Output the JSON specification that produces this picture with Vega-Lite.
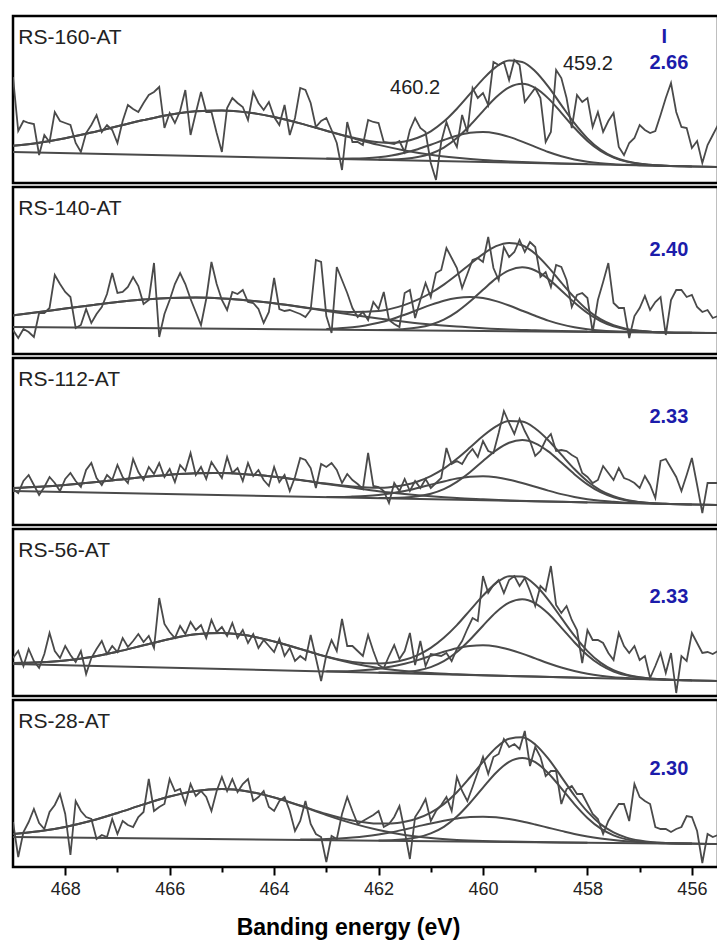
{
"$schema":"https://vega.github.io/schema/vega-lite/v6.json",
"background":"white",
"padding":{"left":11,"top":14,"right":0,"bottom":0},
"spacing":0,
"config":{"view":{"stroke":"#000","strokeWidth":2.5},"font":"Liberation Sans"},
"datasets":{
"p1":[
{"k":"r","x":469.0,"y":106},{"k":"r","x":468.9,"y":52},{"k":"r","x":468.8,"y":62},{"k":"r","x":468.7,"y":60},{"k":"r","x":468.6,"y":59},{"k":"r","x":468.5,"y":28},{"k":"r","x":468.4,"y":48},{"k":"r","x":468.3,"y":41},{"k":"r","x":468.2,"y":71},{"k":"r","x":468.1,"y":62},{"k":"r","x":468.0,"y":60},{"k":"r","x":467.9,"y":58},{"k":"r","x":467.8,"y":40},{"k":"r","x":467.7,"y":31},{"k":"r","x":467.6,"y":50},{"k":"r","x":467.5,"y":58},{"k":"r","x":467.4,"y":68},{"k":"r","x":467.3,"y":51},{"k":"r","x":467.2,"y":58},{"k":"r","x":467.1,"y":53},{"k":"r","x":467.0,"y":40},{"k":"r","x":466.9,"y":62},{"k":"r","x":466.8,"y":78},{"k":"r","x":466.7,"y":74},{"k":"r","x":466.6,"y":71},{"k":"r","x":466.5,"y":80},{"k":"r","x":466.4,"y":88},{"k":"r","x":466.3,"y":91},{"k":"r","x":466.2,"y":96},{"k":"r","x":466.1,"y":55},{"k":"r","x":466.0,"y":70},{"k":"r","x":465.9,"y":60},{"k":"r","x":465.8,"y":72},{"k":"r","x":465.7,"y":93},{"k":"r","x":465.6,"y":48},{"k":"r","x":465.5,"y":70},{"k":"r","x":465.4,"y":91},{"k":"r","x":465.3,"y":71},{"k":"r","x":465.2,"y":71},{"k":"r","x":465.1,"y":50},{"k":"r","x":465.0,"y":31},{"k":"r","x":464.9,"y":75},{"k":"r","x":464.8,"y":85},{"k":"r","x":464.7,"y":80},{"k":"r","x":464.6,"y":76},{"k":"r","x":464.5,"y":63},{"k":"r","x":464.4,"y":91},{"k":"r","x":464.3,"y":80},{"k":"r","x":464.2,"y":73},{"k":"r","x":464.1,"y":81},{"k":"r","x":464.0,"y":66},{"k":"r","x":463.9,"y":58},{"k":"r","x":463.8,"y":78},{"k":"r","x":463.7,"y":48},{"k":"r","x":463.6,"y":65},{"k":"r","x":463.5,"y":95},{"k":"r","x":463.4,"y":93},{"k":"r","x":463.3,"y":80},{"k":"r","x":463.2,"y":56},{"k":"r","x":463.1,"y":62},{"k":"r","x":463.0,"y":65},{"k":"r","x":462.9,"y":53},{"k":"r","x":462.8,"y":40},{"k":"r","x":462.7,"y":13},{"k":"r","x":462.6,"y":61},{"k":"r","x":462.5,"y":41},{"k":"r","x":462.4,"y":41},{"k":"r","x":462.3,"y":38},{"k":"r","x":462.2,"y":63},{"k":"r","x":462.1,"y":61},{"k":"r","x":462.0,"y":60},{"k":"r","x":461.9,"y":41},{"k":"r","x":461.8,"y":40},{"k":"r","x":461.7,"y":39},{"k":"r","x":461.6,"y":42},{"k":"r","x":461.5,"y":31},{"k":"r","x":461.4,"y":53},{"k":"r","x":461.3,"y":65},{"k":"r","x":461.2,"y":55},{"k":"r","x":461.1,"y":51},{"k":"r","x":461.0,"y":20},{"k":"r","x":460.9,"y":3},{"k":"r","x":460.8,"y":41},{"k":"r","x":460.7,"y":61},{"k":"r","x":460.6,"y":46},{"k":"r","x":460.5,"y":36},{"k":"r","x":460.4,"y":68},{"k":"r","x":460.3,"y":51},{"k":"r","x":460.2,"y":95},{"k":"r","x":460.1,"y":85},{"k":"r","x":460.0,"y":90},{"k":"r","x":459.9,"y":78},{"k":"r","x":459.8,"y":121},{"k":"r","x":459.7,"y":118},{"k":"r","x":459.6,"y":121},{"k":"r","x":459.5,"y":103},{"k":"r","x":459.4,"y":123},{"k":"r","x":459.3,"y":118},{"k":"r","x":459.2,"y":81},{"k":"r","x":459.1,"y":88},{"k":"r","x":459.0,"y":95},{"k":"r","x":458.9,"y":85},{"k":"r","x":458.8,"y":41},{"k":"r","x":458.7,"y":51},{"k":"r","x":458.6,"y":113},{"k":"r","x":458.5,"y":105},{"k":"r","x":458.4,"y":85},{"k":"r","x":458.3,"y":55},{"k":"r","x":458.2,"y":88},{"k":"r","x":458.1,"y":81},{"k":"r","x":458.0,"y":85},{"k":"r","x":457.9,"y":56},{"k":"r","x":457.8,"y":71},{"k":"r","x":457.7,"y":51},{"k":"r","x":457.6,"y":62},{"k":"r","x":457.5,"y":70},{"k":"r","x":457.4,"y":36},{"k":"r","x":457.3,"y":28},{"k":"r","x":457.2,"y":40},{"k":"r","x":457.1,"y":45},{"k":"r","x":457.0,"y":58},{"k":"r","x":456.9,"y":53},{"k":"r","x":456.8,"y":50},{"k":"r","x":456.7,"y":52},{"k":"r","x":456.6,"y":68},{"k":"r","x":456.5,"y":85},{"k":"r","x":456.4,"y":100},{"k":"r","x":456.3,"y":71},{"k":"r","x":456.2,"y":56},{"k":"r","x":456.1,"y":55},{"k":"r","x":456.0,"y":35},{"k":"r","x":455.9,"y":42},{"k":"r","x":455.8,"y":20},{"k":"r","x":455.7,"y":38},{"k":"r","x":455.6,"y":48},{"k":"r","x":455.5,"y":58},
{"k":"E","x":469,"y":37.2},{"k":"E","x":468.5,"y":40.3},{"k":"E","x":468,"y":44.8},{"k":"E","x":467.5,"y":50.4},{"k":"E","x":467,"y":56.7},{"k":"E","x":466.5,"y":62.9},{"k":"E","x":466,"y":68.3},{"k":"E","x":465.5,"y":71.7},{"k":"E","x":465,"y":72.6},{"k":"E","x":464.5,"y":70.6},{"k":"E","x":464,"y":66.0},{"k":"E","x":463.5,"y":59.6},{"k":"E","x":463,"y":52.3},{"k":"E","x":462.5,"y":45.5},{"k":"E","x":462,"y":40.8},{"k":"E","x":461.75,"y":40.3},{"k":"E","x":461.5,"y":41.6},{"k":"E","x":461.25,"y":45.2},{"k":"E","x":461,"y":51.7},{"k":"E","x":460.75,"y":61.4},{"k":"E","x":460.5,"y":74.3},{"k":"E","x":460.25,"y":89.1},{"k":"E","x":460,"y":103.9},{"k":"E","x":459.75,"y":116.1},{"k":"E","x":459.5,"y":122.4},{"k":"E","x":459.25,"y":121.1},{"k":"E","x":459,"y":111.8},{"k":"E","x":458.75,"y":96.4},{"k":"E","x":458.5,"y":77.9},{"k":"E","x":458.25,"y":59.8},{"k":"E","x":458,"y":44.6},{"k":"E","x":457.75,"y":33.4},{"k":"E","x":457.5,"y":26.0},{"k":"E","x":457.25,"y":21.7},{"k":"E","x":457,"y":19.3},{"k":"E","x":456.75,"y":18.0},{"k":"E","x":456.5,"y":17.3},{"k":"E","x":456,"y":16.6},{"k":"E","x":455.5,"y":16.0},
{"k":"S","x":469,"y":37.2},{"k":"S","x":468.5,"y":40.3},{"k":"S","x":468,"y":44.8},{"k":"S","x":467.5,"y":50.4},{"k":"S","x":467,"y":56.7},{"k":"S","x":466.5,"y":62.9},{"k":"S","x":466,"y":68.3},{"k":"S","x":465.5,"y":71.7},{"k":"S","x":465,"y":72.6},{"k":"S","x":464.5,"y":70.6},{"k":"S","x":464,"y":66.0},{"k":"S","x":463.5,"y":59.6},{"k":"S","x":463,"y":52.2},{"k":"S","x":462.5,"y":44.9},{"k":"S","x":462,"y":38.1},{"k":"S","x":461.5,"y":32.6},{"k":"S","x":461,"y":28.3},{"k":"S","x":460.5,"y":25.3},{"k":"S","x":460,"y":23.0},{"k":"S","x":459.5,"y":21.5},{"k":"S","x":459,"y":20.4},{"k":"S","x":458.5,"y":19.5},{"k":"S","x":458,"y":18.9},
{"k":"C1","x":462,"y":23.4},{"k":"C1","x":461.75,"y":23.5},{"k":"C1","x":461.5,"y":24.2},{"k":"C1","x":461.25,"y":25.9},{"k":"C1","x":461,"y":29.3},{"k":"C1","x":460.75,"y":35.4},{"k":"C1","x":460.5,"y":44.9},{"k":"C1","x":460.25,"y":57.5},{"k":"C1","x":460,"y":71.9},{"k":"C1","x":459.75,"y":85.7},{"k":"C1","x":459.5,"y":95.6},{"k":"C1","x":459.25,"y":99.2},{"k":"C1","x":459,"y":95.1},{"k":"C1","x":458.75,"y":84.6},{"k":"C1","x":458.5,"y":70.2},{"k":"C1","x":458.25,"y":55.2},{"k":"C1","x":458,"y":42.1},{"k":"C1","x":457.75,"y":32.1},{"k":"C1","x":457.5,"y":25.4},{"k":"C1","x":457.25,"y":21.4},{"k":"C1","x":457,"y":19.2},{"k":"C1","x":456.75,"y":18.0},{"k":"C1","x":456.5,"y":17.3},{"k":"C1","x":456,"y":16.6},
{"k":"C2","x":463,"y":24.4},{"k":"C2","x":462.75,"y":24.3},{"k":"C2","x":462.5,"y":24.4},{"k":"C2","x":462.25,"y":24.8},{"k":"C2","x":462,"y":25.7},{"k":"C2","x":461.75,"y":27.4},{"k":"C2","x":461.5,"y":30.2},{"k":"C2","x":461.25,"y":33.8},{"k":"C2","x":461,"y":38.3},{"k":"C2","x":460.75,"y":43.0},{"k":"C2","x":460.5,"y":47.3},{"k":"C2","x":460.25,"y":50.2},{"k":"C2","x":460,"y":51.0},{"k":"C2","x":459.75,"y":49.6},{"k":"C2","x":459.5,"y":46.1},{"k":"C2","x":459.25,"y":41.4},{"k":"C2","x":459,"y":36.1},{"k":"C2","x":458.75,"y":31.0},{"k":"C2","x":458.5,"y":26.8},{"k":"C2","x":458.25,"y":23.5},{"k":"C2","x":458,"y":21.3},{"k":"C2","x":457.75,"y":19.8},{"k":"C2","x":457.5,"y":18.8},{"k":"C2","x":457.25,"y":18.2},{"k":"C2","x":457,"y":17.8},{"k":"C2","x":456.5,"y":17.1},
{"k":"B","x":469,"y":31},{"k":"B","x":455.5,"y":16}
],
"p2":[
{"k":"r","x":469.0,"y":24},{"k":"r","x":468.9,"y":16},{"k":"r","x":468.8,"y":25},{"k":"r","x":468.7,"y":22},{"k":"r","x":468.6,"y":17},{"k":"r","x":468.5,"y":41},{"k":"r","x":468.4,"y":41},{"k":"r","x":468.3,"y":46},{"k":"r","x":468.2,"y":79},{"k":"r","x":468.1,"y":70},{"k":"r","x":468.0,"y":62},{"k":"r","x":467.9,"y":57},{"k":"r","x":467.8,"y":26},{"k":"r","x":467.7,"y":29},{"k":"r","x":467.6,"y":45},{"k":"r","x":467.5,"y":31},{"k":"r","x":467.4,"y":40},{"k":"r","x":467.3,"y":47},{"k":"r","x":467.2,"y":60},{"k":"r","x":467.1,"y":81},{"k":"r","x":467.0,"y":61},{"k":"r","x":466.9,"y":62},{"k":"r","x":466.8,"y":67},{"k":"r","x":466.7,"y":77},{"k":"r","x":466.6,"y":68},{"k":"r","x":466.5,"y":50},{"k":"r","x":466.4,"y":54},{"k":"r","x":466.3,"y":91},{"k":"r","x":466.2,"y":17},{"k":"r","x":466.1,"y":40},{"k":"r","x":466.0,"y":54},{"k":"r","x":465.9,"y":70},{"k":"r","x":465.8,"y":81},{"k":"r","x":465.7,"y":70},{"k":"r","x":465.6,"y":55},{"k":"r","x":465.5,"y":42},{"k":"r","x":465.4,"y":29},{"k":"r","x":465.3,"y":55},{"k":"r","x":465.2,"y":92},{"k":"r","x":465.1,"y":70},{"k":"r","x":465.0,"y":54},{"k":"r","x":464.9,"y":44},{"k":"r","x":464.8,"y":62},{"k":"r","x":464.7,"y":60},{"k":"r","x":464.6,"y":64},{"k":"r","x":464.5,"y":52},{"k":"r","x":464.4,"y":51},{"k":"r","x":464.3,"y":45},{"k":"r","x":464.2,"y":31},{"k":"r","x":464.1,"y":42},{"k":"r","x":464.0,"y":76},{"k":"r","x":463.9,"y":45},{"k":"r","x":463.8,"y":43},{"k":"r","x":463.7,"y":44},{"k":"r","x":463.6,"y":42},{"k":"r","x":463.5,"y":40},{"k":"r","x":463.4,"y":37},{"k":"r","x":463.3,"y":44},{"k":"r","x":463.2,"y":94},{"k":"r","x":463.1,"y":92},{"k":"r","x":463.0,"y":38},{"k":"r","x":462.9,"y":21},{"k":"r","x":462.8,"y":87},{"k":"r","x":462.7,"y":74},{"k":"r","x":462.6,"y":61},{"k":"r","x":462.5,"y":46},{"k":"r","x":462.4,"y":37},{"k":"r","x":462.3,"y":42},{"k":"r","x":462.2,"y":34},{"k":"r","x":462.1,"y":52},{"k":"r","x":462.0,"y":45},{"k":"r","x":461.9,"y":62},{"k":"r","x":461.8,"y":34},{"k":"r","x":461.7,"y":30},{"k":"r","x":461.6,"y":27},{"k":"r","x":461.5,"y":61},{"k":"r","x":461.4,"y":64},{"k":"r","x":461.3,"y":36},{"k":"r","x":461.2,"y":54},{"k":"r","x":461.1,"y":71},{"k":"r","x":461.0,"y":57},{"k":"r","x":460.9,"y":81},{"k":"r","x":460.8,"y":84},{"k":"r","x":460.7,"y":106},{"k":"r","x":460.6,"y":96},{"k":"r","x":460.5,"y":86},{"k":"r","x":460.4,"y":66},{"k":"r","x":460.3,"y":80},{"k":"r","x":460.2,"y":94},{"k":"r","x":460.1,"y":96},{"k":"r","x":460.0,"y":92},{"k":"r","x":459.9,"y":117},{"k":"r","x":459.8,"y":86},{"k":"r","x":459.7,"y":74},{"k":"r","x":459.6,"y":107},{"k":"r","x":459.5,"y":97},{"k":"r","x":459.4,"y":102},{"k":"r","x":459.3,"y":114},{"k":"r","x":459.2,"y":102},{"k":"r","x":459.1,"y":112},{"k":"r","x":459.0,"y":107},{"k":"r","x":458.9,"y":77},{"k":"r","x":458.8,"y":82},{"k":"r","x":458.7,"y":67},{"k":"r","x":458.6,"y":89},{"k":"r","x":458.5,"y":87},{"k":"r","x":458.4,"y":74},{"k":"r","x":458.3,"y":47},{"k":"r","x":458.2,"y":59},{"k":"r","x":458.1,"y":61},{"k":"r","x":458.0,"y":56},{"k":"r","x":457.9,"y":22},{"k":"r","x":457.8,"y":54},{"k":"r","x":457.7,"y":72},{"k":"r","x":457.6,"y":91},{"k":"r","x":457.5,"y":51},{"k":"r","x":457.4,"y":46},{"k":"r","x":457.3,"y":46},{"k":"r","x":457.2,"y":16},{"k":"r","x":457.1,"y":38},{"k":"r","x":457.0,"y":46},{"k":"r","x":456.9,"y":58},{"k":"r","x":456.8,"y":44},{"k":"r","x":456.7,"y":52},{"k":"r","x":456.6,"y":57},{"k":"r","x":456.5,"y":19},{"k":"r","x":456.4,"y":54},{"k":"r","x":456.3,"y":64},{"k":"r","x":456.2,"y":64},{"k":"r","x":456.1,"y":57},{"k":"r","x":456.0,"y":59},{"k":"r","x":455.9,"y":47},{"k":"r","x":455.8,"y":42},{"k":"r","x":455.7,"y":44},{"k":"r","x":455.6,"y":36},{"k":"r","x":455.5,"y":38},
{"k":"E","x":469,"y":38.6},{"k":"E","x":468.5,"y":41.9},{"k":"E","x":468,"y":45.4},{"k":"E","x":467.5,"y":48.8},{"k":"E","x":467,"y":52.0},{"k":"E","x":466.5,"y":54.5},{"k":"E","x":466,"y":56.1},{"k":"E","x":465.5,"y":56.4},{"k":"E","x":465,"y":55.6},{"k":"E","x":464.5,"y":53.6},{"k":"E","x":464,"y":50.7},{"k":"E","x":463.5,"y":47.3},{"k":"E","x":463,"y":43.9},{"k":"E","x":462.5,"y":41.9},{"k":"E","x":462,"y":43.0},{"k":"E","x":461.75,"y":45.4},{"k":"E","x":461.5,"y":49.1},{"k":"E","x":461.25,"y":54.3},{"k":"E","x":461,"y":61.0},{"k":"E","x":460.75,"y":69.4},{"k":"E","x":460.5,"y":79.2},{"k":"E","x":460.25,"y":89.8},{"k":"E","x":460,"y":99.9},{"k":"E","x":459.75,"y":107.8},{"k":"E","x":459.5,"y":111.1},{"k":"E","x":459.25,"y":108.7},{"k":"E","x":459,"y":100.2},{"k":"E","x":458.75,"y":86.9},{"k":"E","x":458.5,"y":71.4},{"k":"E","x":458.25,"y":56.6},{"k":"E","x":458,"y":44.0},{"k":"E","x":457.75,"y":34.8},{"k":"E","x":457.5,"y":28.7},{"k":"E","x":457.25,"y":25.1},{"k":"E","x":457,"y":23.2},{"k":"E","x":456.75,"y":22.1},{"k":"E","x":456.5,"y":21.6},{"k":"E","x":456,"y":21.2},{"k":"E","x":455.5,"y":21.0},
{"k":"S","x":469,"y":38.6},{"k":"S","x":468.5,"y":41.9},{"k":"S","x":468,"y":45.4},{"k":"S","x":467.5,"y":48.8},{"k":"S","x":467,"y":52.0},{"k":"S","x":466.5,"y":54.5},{"k":"S","x":466,"y":56.1},{"k":"S","x":465.5,"y":56.4},{"k":"S","x":465,"y":55.6},{"k":"S","x":464.5,"y":53.6},{"k":"S","x":464,"y":50.7},{"k":"S","x":463.5,"y":47.1},{"k":"S","x":463,"y":43.1},{"k":"S","x":462.5,"y":39.2},{"k":"S","x":462,"y":35.5},{"k":"S","x":461.5,"y":32.3},{"k":"S","x":461,"y":29.5},{"k":"S","x":460.5,"y":27.4},{"k":"S","x":460,"y":25.8},{"k":"S","x":459.5,"y":24.5},{"k":"S","x":459,"y":23.7},{"k":"S","x":458.5,"y":22.9},{"k":"S","x":458,"y":22.4},
{"k":"C1","x":462,"y":24.1},{"k":"C1","x":461.75,"y":24.3},{"k":"C1","x":461.5,"y":24.9},{"k":"C1","x":461.25,"y":26.4},{"k":"C1","x":461,"y":29.2},{"k":"C1","x":460.75,"y":34.3},{"k":"C1","x":460.5,"y":42.1},{"k":"C1","x":460.25,"y":52.4},{"k":"C1","x":460,"y":64.2},{"k":"C1","x":459.75,"y":75.6},{"k":"C1","x":459.5,"y":83.7},{"k":"C1","x":459.25,"y":86.7},{"k":"C1","x":459,"y":83.5},{"k":"C1","x":458.75,"y":75.1},{"k":"C1","x":458.5,"y":63.5},{"k":"C1","x":458.25,"y":51.5},{"k":"C1","x":458,"y":41.0},{"k":"C1","x":457.75,"y":33.0},{"k":"C1","x":457.5,"y":27.7},{"k":"C1","x":457.25,"y":24.6},{"k":"C1","x":457,"y":22.9},{"k":"C1","x":456.75,"y":22.1},{"k":"C1","x":456.5,"y":21.6},{"k":"C1","x":456,"y":21.2},
{"k":"C2","x":463,"y":25.1},{"k":"C2","x":462.75,"y":25.7},{"k":"C2","x":462.5,"y":26.8},{"k":"C2","x":462.25,"y":28.6},{"k":"C2","x":462,"y":31.2},{"k":"C2","x":461.75,"y":34.8},{"k":"C2","x":461.5,"y":39.3},{"k":"C2","x":461.25,"y":44.2},{"k":"C2","x":461,"y":49.1},{"k":"C2","x":460.75,"y":53.3},{"k":"C2","x":460.5,"y":56.1},{"k":"C2","x":460.25,"y":57.1},{"k":"C2","x":460,"y":55.9},{"k":"C2","x":459.75,"y":52.9},{"k":"C2","x":459.5,"y":48.5},{"k":"C2","x":459.25,"y":43.3},{"k":"C2","x":459,"y":38.2},{"k":"C2","x":458.75,"y":33.4},{"k":"C2","x":458.5,"y":29.6},{"k":"C2","x":458.25,"y":26.8},{"k":"C2","x":458,"y":24.8},{"k":"C2","x":457.75,"y":23.5},{"k":"C2","x":457.5,"y":22.7},{"k":"C2","x":457.25,"y":22.2},{"k":"C2","x":457,"y":21.9},{"k":"C2","x":456.5,"y":21.4},
{"k":"B","x":469,"y":27},{"k":"B","x":455.5,"y":21}
],
"p3":[
{"k":"r","x":469.0,"y":36},{"k":"r","x":468.9,"y":32},{"k":"r","x":468.8,"y":44},{"k":"r","x":468.7,"y":50},{"k":"r","x":468.6,"y":40},{"k":"r","x":468.5,"y":30},{"k":"r","x":468.4,"y":38},{"k":"r","x":468.3,"y":48},{"k":"r","x":468.2,"y":42},{"k":"r","x":468.1,"y":34},{"k":"r","x":468.0,"y":46},{"k":"r","x":467.9,"y":52},{"k":"r","x":467.8,"y":44},{"k":"r","x":467.7,"y":38},{"k":"r","x":467.6,"y":55},{"k":"r","x":467.5,"y":62},{"k":"r","x":467.4,"y":47},{"k":"r","x":467.3,"y":40},{"k":"r","x":467.2,"y":50},{"k":"r","x":467.1,"y":45},{"k":"r","x":467.0,"y":60},{"k":"r","x":466.9,"y":48},{"k":"r","x":466.8,"y":42},{"k":"r","x":466.7,"y":66},{"k":"r","x":466.6,"y":53},{"k":"r","x":466.5,"y":45},{"k":"r","x":466.4,"y":58},{"k":"r","x":466.3,"y":51},{"k":"r","x":466.2,"y":62},{"k":"r","x":466.1,"y":48},{"k":"r","x":466.0,"y":56},{"k":"r","x":465.9,"y":43},{"k":"r","x":465.8,"y":60},{"k":"r","x":465.7,"y":54},{"k":"r","x":465.6,"y":72},{"k":"r","x":465.5,"y":50},{"k":"r","x":465.4,"y":58},{"k":"r","x":465.3,"y":46},{"k":"r","x":465.2,"y":63},{"k":"r","x":465.1,"y":55},{"k":"r","x":465.0,"y":47},{"k":"r","x":464.9,"y":68},{"k":"r","x":464.8,"y":52},{"k":"r","x":464.7,"y":57},{"k":"r","x":464.6,"y":44},{"k":"r","x":464.5,"y":62},{"k":"r","x":464.4,"y":49},{"k":"r","x":464.3,"y":55},{"k":"r","x":464.2,"y":45},{"k":"r","x":464.1,"y":39},{"k":"r","x":464.0,"y":58},{"k":"r","x":463.9,"y":43},{"k":"r","x":463.8,"y":50},{"k":"r","x":463.7,"y":34},{"k":"r","x":463.6,"y":48},{"k":"r","x":463.5,"y":67},{"k":"r","x":463.4,"y":65},{"k":"r","x":463.3,"y":57},{"k":"r","x":463.2,"y":37},{"k":"r","x":463.1,"y":61},{"k":"r","x":463.0,"y":58},{"k":"r","x":462.9,"y":62},{"k":"r","x":462.8,"y":55},{"k":"r","x":462.7,"y":42},{"k":"r","x":462.6,"y":51},{"k":"r","x":462.5,"y":45},{"k":"r","x":462.4,"y":41},{"k":"r","x":462.3,"y":36},{"k":"r","x":462.2,"y":72},{"k":"r","x":462.1,"y":39},{"k":"r","x":462.0,"y":38},{"k":"r","x":461.9,"y":34},{"k":"r","x":461.8,"y":22},{"k":"r","x":461.7,"y":42},{"k":"r","x":461.6,"y":34},{"k":"r","x":461.5,"y":46},{"k":"r","x":461.4,"y":34},{"k":"r","x":461.3,"y":44},{"k":"r","x":461.2,"y":37},{"k":"r","x":461.1,"y":46},{"k":"r","x":461.0,"y":37},{"k":"r","x":460.9,"y":42},{"k":"r","x":460.8,"y":47},{"k":"r","x":460.7,"y":77},{"k":"r","x":460.6,"y":61},{"k":"r","x":460.5,"y":64},{"k":"r","x":460.4,"y":61},{"k":"r","x":460.3,"y":70},{"k":"r","x":460.2,"y":76},{"k":"r","x":460.1,"y":68},{"k":"r","x":460.0,"y":84},{"k":"r","x":459.9,"y":74},{"k":"r","x":459.8,"y":72},{"k":"r","x":459.7,"y":92},{"k":"r","x":459.6,"y":114},{"k":"r","x":459.5,"y":102},{"k":"r","x":459.4,"y":91},{"k":"r","x":459.3,"y":106},{"k":"r","x":459.2,"y":94},{"k":"r","x":459.1,"y":84},{"k":"r","x":459.0,"y":69},{"k":"r","x":458.9,"y":74},{"k":"r","x":458.8,"y":85},{"k":"r","x":458.7,"y":91},{"k":"r","x":458.6,"y":74},{"k":"r","x":458.5,"y":75},{"k":"r","x":458.4,"y":74},{"k":"r","x":458.3,"y":70},{"k":"r","x":458.2,"y":67},{"k":"r","x":458.1,"y":52},{"k":"r","x":458.0,"y":48},{"k":"r","x":457.9,"y":42},{"k":"r","x":457.8,"y":45},{"k":"r","x":457.7,"y":59},{"k":"r","x":457.6,"y":52},{"k":"r","x":457.5,"y":45},{"k":"r","x":457.4,"y":57},{"k":"r","x":457.3,"y":47},{"k":"r","x":457.2,"y":45},{"k":"r","x":457.1,"y":42},{"k":"r","x":457.0,"y":37},{"k":"r","x":456.9,"y":49},{"k":"r","x":456.8,"y":40},{"k":"r","x":456.7,"y":27},{"k":"r","x":456.6,"y":64},{"k":"r","x":456.5,"y":66},{"k":"r","x":456.4,"y":57},{"k":"r","x":456.3,"y":48},{"k":"r","x":456.2,"y":34},{"k":"r","x":456.1,"y":50},{"k":"r","x":456.0,"y":67},{"k":"r","x":455.9,"y":40},{"k":"r","x":455.8,"y":12},{"k":"r","x":455.7,"y":42},{"k":"r","x":455.6,"y":42},{"k":"r","x":455.5,"y":42},
{"k":"E","x":469,"y":37.0},{"k":"E","x":468.5,"y":38.3},{"k":"E","x":468,"y":40.1},{"k":"E","x":467.5,"y":42.5},{"k":"E","x":467,"y":45.2},{"k":"E","x":466.5,"y":48.0},{"k":"E","x":466,"y":50.3},{"k":"E","x":465.5,"y":51.7},{"k":"E","x":465,"y":51.9},{"k":"E","x":464.5,"y":50.6},{"k":"E","x":464,"y":48.2},{"k":"E","x":463.5,"y":45.0},{"k":"E","x":463,"y":41.4},{"k":"E","x":462.5,"y":38.5},{"k":"E","x":462,"y":37.2},{"k":"E","x":461.75,"y":38.1},{"k":"E","x":461.5,"y":40.0},{"k":"E","x":461.25,"y":43.5},{"k":"E","x":461,"y":48.9},{"k":"E","x":460.75,"y":56.3},{"k":"E","x":460.5,"y":66.2},{"k":"E","x":460.25,"y":77.4},{"k":"E","x":460,"y":89.0},{"k":"E","x":459.75,"y":98.6},{"k":"E","x":459.5,"y":103.9},{"k":"E","x":459.25,"y":103.4},{"k":"E","x":459,"y":96.5},{"k":"E","x":458.75,"y":84.8},{"k":"E","x":458.5,"y":70.3},{"k":"E","x":458.25,"y":56.0},{"k":"E","x":458,"y":43.8},{"k":"E","x":457.75,"y":34.7},{"k":"E","x":457.5,"y":28.8},{"k":"E","x":457.25,"y":25.0},{"k":"E","x":457,"y":23.1},{"k":"E","x":456.75,"y":21.8},{"k":"E","x":456.5,"y":21.2},{"k":"E","x":456,"y":20.5},{"k":"E","x":455.5,"y":20.0},
{"k":"S","x":469,"y":37.0},{"k":"S","x":468.5,"y":38.3},{"k":"S","x":468,"y":40.1},{"k":"S","x":467.5,"y":42.5},{"k":"S","x":467,"y":45.2},{"k":"S","x":466.5,"y":48.0},{"k":"S","x":466,"y":50.3},{"k":"S","x":465.5,"y":51.7},{"k":"S","x":465,"y":51.9},{"k":"S","x":464.5,"y":50.6},{"k":"S","x":464,"y":48.2},{"k":"S","x":463.5,"y":44.9},{"k":"S","x":463,"y":41.1},{"k":"S","x":462.5,"y":37.4},{"k":"S","x":462,"y":33.8},{"k":"S","x":461.5,"y":31.0},{"k":"S","x":461,"y":28.7},{"k":"S","x":460.5,"y":26.9},{"k":"S","x":460,"y":25.7},{"k":"S","x":459.5,"y":24.6},{"k":"S","x":459,"y":23.8},{"k":"S","x":458.5,"y":23.2},{"k":"S","x":458,"y":22.6},
{"k":"C1","x":462,"y":26.9},{"k":"C1","x":461.75,"y":27.0},{"k":"C1","x":461.5,"y":27.4},{"k":"C1","x":461.25,"y":28.7},{"k":"C1","x":461,"y":31.3},{"k":"C1","x":460.75,"y":35.9},{"k":"C1","x":460.5,"y":43.2},{"k":"C1","x":460.25,"y":52.8},{"k":"C1","x":460,"y":64.0},{"k":"C1","x":459.75,"y":74.6},{"k":"C1","x":459.5,"y":82.2},{"k":"C1","x":459.25,"y":84.9},{"k":"C1","x":459,"y":81.7},{"k":"C1","x":458.75,"y":73.6},{"k":"C1","x":458.5,"y":62.4},{"k":"C1","x":458.25,"y":50.8},{"k":"C1","x":458,"y":40.6},{"k":"C1","x":457.75,"y":32.8},{"k":"C1","x":457.5,"y":27.7},{"k":"C1","x":457.25,"y":24.5},{"k":"C1","x":457,"y":22.8},{"k":"C1","x":456.75,"y":21.8},{"k":"C1","x":456.5,"y":21.2},{"k":"C1","x":456,"y":20.5},
{"k":"C2","x":463,"y":28.1},{"k":"C2","x":462.75,"y":28.1},{"k":"C2","x":462.5,"y":28.4},{"k":"C2","x":462.25,"y":28.9},{"k":"C2","x":462,"y":29.9},{"k":"C2","x":461.75,"y":31.7},{"k":"C2","x":461.5,"y":34.0},{"k":"C2","x":461.25,"y":37.0},{"k":"C2","x":461,"y":40.3},{"k":"C2","x":460.75,"y":43.5},{"k":"C2","x":460.5,"y":46.4},{"k":"C2","x":460.25,"y":48.2},{"k":"C2","x":460,"y":48.7},{"k":"C2","x":459.75,"y":47.7},{"k":"C2","x":459.5,"y":45.3},{"k":"C2","x":459.25,"y":42.0},{"k":"C2","x":459,"y":38.2},{"k":"C2","x":458.75,"y":34.4},{"k":"C2","x":458.5,"y":30.9},{"k":"C2","x":458.25,"y":28.1},{"k":"C2","x":458,"y":25.8},{"k":"C2","x":457.75,"y":24.2},{"k":"C2","x":457.5,"y":23.2},{"k":"C2","x":457.25,"y":22.3},{"k":"C2","x":457,"y":21.9},{"k":"C2","x":456.5,"y":21.0},
{"k":"B","x":469,"y":34},{"k":"B","x":455.5,"y":20}
],
"p4":[
{"k":"r","x":469.0,"y":38},{"k":"r","x":468.9,"y":45},{"k":"r","x":468.8,"y":30},{"k":"r","x":468.7,"y":47},{"k":"r","x":468.6,"y":35},{"k":"r","x":468.5,"y":28},{"k":"r","x":468.4,"y":42},{"k":"r","x":468.3,"y":63},{"k":"r","x":468.2,"y":45},{"k":"r","x":468.1,"y":38},{"k":"r","x":468.0,"y":50},{"k":"r","x":467.9,"y":41},{"k":"r","x":467.8,"y":34},{"k":"r","x":467.7,"y":45},{"k":"r","x":467.6,"y":22},{"k":"r","x":467.5,"y":38},{"k":"r","x":467.4,"y":47},{"k":"r","x":467.3,"y":55},{"k":"r","x":467.2,"y":42},{"k":"r","x":467.1,"y":50},{"k":"r","x":467.0,"y":44},{"k":"r","x":466.9,"y":58},{"k":"r","x":466.8,"y":49},{"k":"r","x":466.7,"y":55},{"k":"r","x":466.6,"y":62},{"k":"r","x":466.5,"y":54},{"k":"r","x":466.4,"y":60},{"k":"r","x":466.3,"y":48},{"k":"r","x":466.2,"y":98},{"k":"r","x":466.1,"y":72},{"k":"r","x":466.0,"y":64},{"k":"r","x":465.9,"y":58},{"k":"r","x":465.8,"y":70},{"k":"r","x":465.7,"y":62},{"k":"r","x":465.6,"y":74},{"k":"r","x":465.5,"y":66},{"k":"r","x":465.4,"y":71},{"k":"r","x":465.3,"y":58},{"k":"r","x":465.2,"y":76},{"k":"r","x":465.1,"y":64},{"k":"r","x":465.0,"y":69},{"k":"r","x":464.9,"y":60},{"k":"r","x":464.8,"y":73},{"k":"r","x":464.7,"y":58},{"k":"r","x":464.6,"y":66},{"k":"r","x":464.5,"y":53},{"k":"r","x":464.4,"y":62},{"k":"r","x":464.3,"y":48},{"k":"r","x":464.2,"y":56},{"k":"r","x":464.1,"y":50},{"k":"r","x":464.0,"y":44},{"k":"r","x":463.9,"y":57},{"k":"r","x":463.8,"y":40},{"k":"r","x":463.7,"y":48},{"k":"r","x":463.6,"y":35},{"k":"r","x":463.5,"y":40},{"k":"r","x":463.4,"y":36},{"k":"r","x":463.3,"y":61},{"k":"r","x":463.2,"y":38},{"k":"r","x":463.1,"y":15},{"k":"r","x":463.0,"y":41},{"k":"r","x":462.9,"y":56},{"k":"r","x":462.8,"y":45},{"k":"r","x":462.7,"y":77},{"k":"r","x":462.6,"y":50},{"k":"r","x":462.5,"y":50},{"k":"r","x":462.4,"y":45},{"k":"r","x":462.3,"y":40},{"k":"r","x":462.2,"y":61},{"k":"r","x":462.1,"y":45},{"k":"r","x":462.0,"y":31},{"k":"r","x":461.9,"y":28},{"k":"r","x":461.8,"y":40},{"k":"r","x":461.7,"y":51},{"k":"r","x":461.6,"y":37},{"k":"r","x":461.5,"y":45},{"k":"r","x":461.4,"y":63},{"k":"r","x":461.3,"y":31},{"k":"r","x":461.2,"y":55},{"k":"r","x":461.1,"y":30},{"k":"r","x":461.0,"y":42},{"k":"r","x":460.9,"y":41},{"k":"r","x":460.8,"y":40},{"k":"r","x":460.7,"y":43},{"k":"r","x":460.6,"y":35},{"k":"r","x":460.5,"y":47},{"k":"r","x":460.4,"y":55},{"k":"r","x":460.3,"y":67},{"k":"r","x":460.2,"y":78},{"k":"r","x":460.1,"y":75},{"k":"r","x":460.0,"y":120},{"k":"r","x":459.9,"y":103},{"k":"r","x":459.8,"y":111},{"k":"r","x":459.7,"y":116},{"k":"r","x":459.6,"y":103},{"k":"r","x":459.5,"y":116},{"k":"r","x":459.4,"y":120},{"k":"r","x":459.3,"y":110},{"k":"r","x":459.2,"y":118},{"k":"r","x":459.1,"y":105},{"k":"r","x":459.0,"y":90},{"k":"r","x":458.9,"y":110},{"k":"r","x":458.8,"y":105},{"k":"r","x":458.7,"y":130},{"k":"r","x":458.6,"y":91},{"k":"r","x":458.5,"y":83},{"k":"r","x":458.4,"y":90},{"k":"r","x":458.3,"y":76},{"k":"r","x":458.2,"y":66},{"k":"r","x":458.1,"y":33},{"k":"r","x":458.0,"y":66},{"k":"r","x":457.9,"y":56},{"k":"r","x":457.8,"y":56},{"k":"r","x":457.7,"y":53},{"k":"r","x":457.6,"y":43},{"k":"r","x":457.5,"y":36},{"k":"r","x":457.4,"y":63},{"k":"r","x":457.3,"y":50},{"k":"r","x":457.2,"y":43},{"k":"r","x":457.1,"y":50},{"k":"r","x":457.0,"y":36},{"k":"r","x":456.9,"y":40},{"k":"r","x":456.8,"y":18},{"k":"r","x":456.7,"y":30},{"k":"r","x":456.6,"y":43},{"k":"r","x":456.5,"y":23},{"k":"r","x":456.4,"y":43},{"k":"r","x":456.3,"y":3},{"k":"r","x":456.2,"y":40},{"k":"r","x":456.1,"y":35},{"k":"r","x":456.0,"y":63},{"k":"r","x":455.9,"y":53},{"k":"r","x":455.8,"y":43},{"k":"r","x":455.7,"y":44},{"k":"r","x":455.6,"y":42},{"k":"r","x":455.5,"y":45},
{"k":"E","x":469,"y":33.0},{"k":"E","x":468.5,"y":33.8},{"k":"E","x":468,"y":35.6},{"k":"E","x":467.5,"y":39.1},{"k":"E","x":467,"y":44.3},{"k":"E","x":466.5,"y":50.7},{"k":"E","x":466,"y":57.0},{"k":"E","x":465.5,"y":61.7},{"k":"E","x":465,"y":63.0},{"k":"E","x":464.5,"y":60.4},{"k":"E","x":464,"y":54.5},{"k":"E","x":463.5,"y":47.1},{"k":"E","x":463,"y":39.5},{"k":"E","x":462.5,"y":34.1},{"k":"E","x":462,"y":32.4},{"k":"E","x":461.75,"y":33.5},{"k":"E","x":461.5,"y":36.2},{"k":"E","x":461.25,"y":40.9},{"k":"E","x":461,"y":48.1},{"k":"E","x":460.75,"y":58.2},{"k":"E","x":460.5,"y":70.9},{"k":"E","x":460.25,"y":85.7},{"k":"E","x":460,"y":100.4},{"k":"E","x":459.75,"y":112.9},{"k":"E","x":459.5,"y":119.8},{"k":"E","x":459.25,"y":119.4},{"k":"E","x":459,"y":110.9},{"k":"E","x":458.75,"y":96.2},{"k":"E","x":458.5,"y":78.1},{"k":"E","x":458.25,"y":60.3},{"k":"E","x":458,"y":44.9},{"k":"E","x":457.75,"y":33.4},{"k":"E","x":457.5,"y":25.8},{"k":"E","x":457.25,"y":21.3},{"k":"E","x":457,"y":18.7},{"k":"E","x":456.75,"y":17.2},{"k":"E","x":456.5,"y":16.5},{"k":"E","x":456,"y":15.6},{"k":"E","x":455.5,"y":15.0},
{"k":"S","x":469,"y":33.0},{"k":"S","x":468.5,"y":33.8},{"k":"S","x":468,"y":35.6},{"k":"S","x":467.5,"y":39.1},{"k":"S","x":467,"y":44.3},{"k":"S","x":466.5,"y":50.7},{"k":"S","x":466,"y":57.0},{"k":"S","x":465.5,"y":61.7},{"k":"S","x":465,"y":63.0},{"k":"S","x":464.5,"y":60.4},{"k":"S","x":464,"y":54.5},{"k":"S","x":463.5,"y":47.0},{"k":"S","x":463,"y":39.2},{"k":"S","x":462.5,"y":32.8},{"k":"S","x":462,"y":28.1},{"k":"S","x":461.5,"y":25.0},{"k":"S","x":461,"y":22.9},{"k":"S","x":460.5,"y":21.7},{"k":"S","x":460,"y":20.8},{"k":"S","x":459.5,"y":20.0},{"k":"S","x":459,"y":19.4},{"k":"S","x":458.5,"y":18.8},{"k":"S","x":458,"y":18.1},
{"k":"C1","x":462,"y":23.4},{"k":"C1","x":461.75,"y":23.5},{"k":"C1","x":461.5,"y":24.1},{"k":"C1","x":461.25,"y":25.6},{"k":"C1","x":461,"y":28.9},{"k":"C1","x":460.75,"y":34.8},{"k":"C1","x":460.5,"y":44.0},{"k":"C1","x":460.25,"y":56.3},{"k":"C1","x":460,"y":70.3},{"k":"C1","x":459.75,"y":83.8},{"k":"C1","x":459.5,"y":93.3},{"k":"C1","x":459.25,"y":96.7},{"k":"C1","x":459,"y":92.7},{"k":"C1","x":458.75,"y":82.5},{"k":"C1","x":458.5,"y":68.4},{"k":"C1","x":458.25,"y":53.8},{"k":"C1","x":458,"y":40.8},{"k":"C1","x":457.75,"y":31.0},{"k":"C1","x":457.5,"y":24.5},{"k":"C1","x":457.25,"y":20.6},{"k":"C1","x":457,"y":18.4},{"k":"C1","x":456.75,"y":17.2},{"k":"C1","x":456.5,"y":16.5},{"k":"C1","x":456,"y":15.6},
{"k":"C2","x":463,"y":24.7},{"k":"C2","x":462.75,"y":24.8},{"k":"C2","x":462.5,"y":25.1},{"k":"C2","x":462.25,"y":25.9},{"k":"C2","x":462,"y":27.3},{"k":"C2","x":461.75,"y":29.4},{"k":"C2","x":461.5,"y":32.3},{"k":"C2","x":461.25,"y":35.9},{"k":"C2","x":461,"y":40.1},{"k":"C2","x":460.75,"y":44.3},{"k":"C2","x":460.5,"y":47.8},{"k":"C2","x":460.25,"y":50.1},{"k":"C2","x":460,"y":50.7},{"k":"C2","x":459.75,"y":49.5},{"k":"C2","x":459.5,"y":46.5},{"k":"C2","x":459.25,"y":42.4},{"k":"C2","x":459,"y":37.6},{"k":"C2","x":458.75,"y":32.8},{"k":"C2","x":458.5,"y":28.5},{"k":"C2","x":458.25,"y":25.0},{"k":"C2","x":458,"y":22.2},{"k":"C2","x":457.75,"y":20.2},{"k":"C2","x":457.5,"y":18.8},{"k":"C2","x":457.25,"y":17.9},{"k":"C2","x":457,"y":17.2},{"k":"C2","x":456.5,"y":16.4},
{"k":"B","x":469,"y":32},{"k":"B","x":455.5,"y":15}
],
"p5":[
{"k":"r","x":469.0,"y":45},{"k":"r","x":468.9,"y":10},{"k":"r","x":468.8,"y":35},{"k":"r","x":468.7,"y":45},{"k":"r","x":468.6,"y":58},{"k":"r","x":468.5,"y":44},{"k":"r","x":468.4,"y":38},{"k":"r","x":468.3,"y":55},{"k":"r","x":468.2,"y":62},{"k":"r","x":468.1,"y":73},{"k":"r","x":468.0,"y":53},{"k":"r","x":467.9,"y":12},{"k":"r","x":467.8,"y":66},{"k":"r","x":467.7,"y":56},{"k":"r","x":467.6,"y":50},{"k":"r","x":467.5,"y":48},{"k":"r","x":467.4,"y":28},{"k":"r","x":467.3,"y":32},{"k":"r","x":467.2,"y":30},{"k":"r","x":467.1,"y":48},{"k":"r","x":467.0,"y":33},{"k":"r","x":466.9,"y":46},{"k":"r","x":466.8,"y":42},{"k":"r","x":466.7,"y":40},{"k":"r","x":466.6,"y":50},{"k":"r","x":466.5,"y":55},{"k":"r","x":466.4,"y":88},{"k":"r","x":466.3,"y":56},{"k":"r","x":466.2,"y":60},{"k":"r","x":466.1,"y":63},{"k":"r","x":466.0,"y":88},{"k":"r","x":465.9,"y":76},{"k":"r","x":465.8,"y":78},{"k":"r","x":465.7,"y":63},{"k":"r","x":465.6,"y":83},{"k":"r","x":465.5,"y":71},{"k":"r","x":465.4,"y":76},{"k":"r","x":465.3,"y":70},{"k":"r","x":465.2,"y":56},{"k":"r","x":465.1,"y":76},{"k":"r","x":465.0,"y":90},{"k":"r","x":464.9,"y":76},{"k":"r","x":464.8,"y":88},{"k":"r","x":464.7,"y":75},{"k":"r","x":464.6,"y":83},{"k":"r","x":464.5,"y":88},{"k":"r","x":464.4,"y":66},{"k":"r","x":464.3,"y":70},{"k":"r","x":464.2,"y":76},{"k":"r","x":464.1,"y":60},{"k":"r","x":464.0,"y":56},{"k":"r","x":463.9,"y":66},{"k":"r","x":463.8,"y":70},{"k":"r","x":463.7,"y":56},{"k":"r","x":463.6,"y":36},{"k":"r","x":463.5,"y":46},{"k":"r","x":463.4,"y":66},{"k":"r","x":463.3,"y":43},{"k":"r","x":463.2,"y":33},{"k":"r","x":463.1,"y":30},{"k":"r","x":463.0,"y":5},{"k":"r","x":462.9,"y":31},{"k":"r","x":462.8,"y":28},{"k":"r","x":462.7,"y":53},{"k":"r","x":462.6,"y":70},{"k":"r","x":462.5,"y":56},{"k":"r","x":462.4,"y":43},{"k":"r","x":462.3,"y":46},{"k":"r","x":462.2,"y":49},{"k":"r","x":462.1,"y":52},{"k":"r","x":462.0,"y":56},{"k":"r","x":461.9,"y":40},{"k":"r","x":461.8,"y":43},{"k":"r","x":461.7,"y":50},{"k":"r","x":461.6,"y":61},{"k":"r","x":461.5,"y":36},{"k":"r","x":461.4,"y":8},{"k":"r","x":461.3,"y":50},{"k":"r","x":461.2,"y":58},{"k":"r","x":461.1,"y":68},{"k":"r","x":461.0,"y":46},{"k":"r","x":460.9,"y":56},{"k":"r","x":460.8,"y":62},{"k":"r","x":460.7,"y":70},{"k":"r","x":460.6,"y":56},{"k":"r","x":460.5,"y":90},{"k":"r","x":460.4,"y":76},{"k":"r","x":460.3,"y":66},{"k":"r","x":460.2,"y":80},{"k":"r","x":460.1,"y":95},{"k":"r","x":460.0,"y":110},{"k":"r","x":459.9,"y":93},{"k":"r","x":459.8,"y":110},{"k":"r","x":459.7,"y":113},{"k":"r","x":459.6,"y":128},{"k":"r","x":459.5,"y":120},{"k":"r","x":459.4,"y":123},{"k":"r","x":459.3,"y":118},{"k":"r","x":459.2,"y":136},{"k":"r","x":459.1,"y":101},{"k":"r","x":459.0,"y":120},{"k":"r","x":458.9,"y":110},{"k":"r","x":458.8,"y":91},{"k":"r","x":458.7,"y":96},{"k":"r","x":458.6,"y":96},{"k":"r","x":458.5,"y":63},{"k":"r","x":458.4,"y":78},{"k":"r","x":458.3,"y":81},{"k":"r","x":458.2,"y":73},{"k":"r","x":458.1,"y":73},{"k":"r","x":458.0,"y":63},{"k":"r","x":457.9,"y":53},{"k":"r","x":457.8,"y":48},{"k":"r","x":457.7,"y":33},{"k":"r","x":457.6,"y":46},{"k":"r","x":457.5,"y":55},{"k":"r","x":457.4,"y":63},{"k":"r","x":457.3,"y":63},{"k":"r","x":457.2,"y":46},{"k":"r","x":457.1,"y":83},{"k":"r","x":457.0,"y":70},{"k":"r","x":456.9,"y":66},{"k":"r","x":456.8,"y":63},{"k":"r","x":456.7,"y":40},{"k":"r","x":456.6,"y":38},{"k":"r","x":456.5,"y":38},{"k":"r","x":456.4,"y":35},{"k":"r","x":456.3,"y":38},{"k":"r","x":456.2,"y":40},{"k":"r","x":456.1,"y":51},{"k":"r","x":456.0,"y":50},{"k":"r","x":455.9,"y":36},{"k":"r","x":455.8,"y":4},{"k":"r","x":455.7,"y":33},{"k":"r","x":455.6,"y":30},{"k":"r","x":455.5,"y":32},
{"k":"E","x":469,"y":33.1},{"k":"E","x":468.5,"y":35.7},{"k":"E","x":468,"y":40.1},{"k":"E","x":467.5,"y":46.2},{"k":"E","x":467,"y":54.0},{"k":"E","x":466.5,"y":62.6},{"k":"E","x":466,"y":70.5},{"k":"E","x":465.5,"y":76.1},{"k":"E","x":465,"y":77.9},{"k":"E","x":464.5,"y":75.6},{"k":"E","x":464,"y":69.6},{"k":"E","x":463.5,"y":61.5},{"k":"E","x":463,"y":53.0},{"k":"E","x":462.5,"y":46.5},{"k":"E","x":462,"y":43.4},{"k":"E","x":461.75,"y":43.5},{"k":"E","x":461.5,"y":45.2},{"k":"E","x":461.25,"y":48.7},{"k":"E","x":461,"y":54.4},{"k":"E","x":460.75,"y":62.9},{"k":"E","x":460.5,"y":74.8},{"k":"E","x":460.25,"y":89.5},{"k":"E","x":460,"y":105.1},{"k":"E","x":459.75,"y":119.2},{"k":"E","x":459.5,"y":128.3},{"k":"E","x":459.25,"y":129.7},{"k":"E","x":459,"y":122.6},{"k":"E","x":458.75,"y":108.4},{"k":"E","x":458.5,"y":90.2},{"k":"E","x":458.25,"y":71.5},{"k":"E","x":458,"y":55.3},{"k":"E","x":457.75,"y":42.9},{"k":"E","x":457.5,"y":34.6},{"k":"E","x":457.25,"y":29.4},{"k":"E","x":457,"y":26.5},{"k":"E","x":456.75,"y":24.8},{"k":"E","x":456.5,"y":24.1},{"k":"E","x":456,"y":23.4},{"k":"E","x":455.5,"y":23.0},
{"k":"S","x":469,"y":33.1},{"k":"S","x":468.5,"y":35.7},{"k":"S","x":468,"y":40.1},{"k":"S","x":467.5,"y":46.2},{"k":"S","x":467,"y":54.0},{"k":"S","x":466.5,"y":62.6},{"k":"S","x":466,"y":70.5},{"k":"S","x":465.5,"y":76.1},{"k":"S","x":465,"y":77.9},{"k":"S","x":464.5,"y":75.6},{"k":"S","x":464,"y":69.5},{"k":"S","x":463.5,"y":61.1},{"k":"S","x":463,"y":51.9},{"k":"S","x":462.5,"y":43.6},{"k":"S","x":462,"y":37.0},{"k":"S","x":461.5,"y":32.1},{"k":"S","x":461,"y":29.0},{"k":"S","x":460.5,"y":27.1},{"k":"S","x":460,"y":26.0},{"k":"S","x":459.5,"y":25.4},{"k":"S","x":459,"y":24.9},{"k":"S","x":458.5,"y":24.6},{"k":"S","x":458,"y":24.3},
{"k":"C1","x":462,"y":26.6},{"k":"C1","x":461.75,"y":26.8},{"k":"C1","x":461.5,"y":27.7},{"k":"C1","x":461.25,"y":29.7},{"k":"C1","x":461,"y":33.6},{"k":"C1","x":460.75,"y":40.1},{"k":"C1","x":460.5,"y":50.4},{"k":"C1","x":460.25,"y":64.0},{"k":"C1","x":460,"y":79.4},{"k":"C1","x":459.75,"y":94.3},{"k":"C1","x":459.5,"y":105.1},{"k":"C1","x":459.25,"y":108.9},{"k":"C1","x":459,"y":104.8},{"k":"C1","x":458.75,"y":93.8},{"k":"C1","x":458.5,"y":78.7},{"k":"C1","x":458.25,"y":62.9},{"k":"C1","x":458,"y":49.1},{"k":"C1","x":457.75,"y":38.6},{"k":"C1","x":457.5,"y":31.7},{"k":"C1","x":457.25,"y":27.6},{"k":"C1","x":457,"y":25.4},{"k":"C1","x":456.75,"y":24.2},{"k":"C1","x":456.5,"y":23.7},{"k":"C1","x":456,"y":23.3},
{"k":"C2","x":463.5,"y":27.5},{"k":"C2","x":463.25,"y":27.6},{"k":"C2","x":463,"y":28.0},{"k":"C2","x":462.75,"y":28.6},{"k":"C2","x":462.5,"y":29.5},{"k":"C2","x":462.25,"y":30.8},{"k":"C2","x":462,"y":32.6},{"k":"C2","x":461.75,"y":34.8},{"k":"C2","x":461.5,"y":37.6},{"k":"C2","x":461.25,"y":40.6},{"k":"C2","x":461,"y":43.6},{"k":"C2","x":460.75,"y":46.3},{"k":"C2","x":460.5,"y":48.5},{"k":"C2","x":460.25,"y":50.0},{"k":"C2","x":460,"y":50.3},{"k":"C2","x":459.75,"y":49.7},{"k":"C2","x":459.5,"y":48.0},{"k":"C2","x":459.25,"y":45.5},{"k":"C2","x":459,"y":42.5},{"k":"C2","x":458.75,"y":39.3},{"k":"C2","x":458.5,"y":36.1},{"k":"C2","x":458.25,"y":33.0},{"k":"C2","x":458,"y":30.5},{"k":"C2","x":457.75,"y":28.5},{"k":"C2","x":457.5,"y":26.9},{"k":"C2","x":457.25,"y":25.7},{"k":"C2","x":457,"y":24.9},{"k":"C2","x":456.75,"y":24.2},{"k":"C2","x":456.5,"y":23.9},{"k":"C2","x":456,"y":23.4},
{"k":"B","x":469,"y":30},{"k":"B","x":455.5,"y":23}
]
},
"vconcat":[
{"width":705,"height":167,"data":{"name":"p1"},"layer":[
{"transform":[{"filter":"datum.k==='r'"}],"mark":{"type":"line","color":"#4a4a4a","strokeWidth":1.8,"clip":true},"encoding":{"x":{"field":"x","type":"quantitative","scale":{"domain":[455.5,469],"reverse":true,"nice":false,"zero":false},"axis":null},"y":{"field":"y","type":"quantitative","scale":{"domain":[0,167],"nice":false,"zero":false},"axis":null}}},
{"transform":[{"filter":"datum.k!=='r'"}],"mark":{"type":"line","color":"#4a4a4a","strokeWidth":2,"interpolate":"monotone","clip":true},"encoding":{"x":{"field":"x","type":"quantitative","axis":null},"y":{"field":"y","type":"quantitative","axis":null},"detail":{"field":"k"}}},
{"data":{"values":[{}]},"mark":{"type":"text","align":"left","baseline":"middle","fontSize":21,"color":"#222"},"encoding":{"x":{"datum":468.9,"type":"quantitative","axis":null},"y":{"datum":145,"type":"quantitative","axis":null},"text":{"value":"RS-160-AT"}}},
{"data":{"values":[{}]},"mark":{"type":"text","align":"center","baseline":"middle","fontSize":20,"color":"#222"},"encoding":{"x":{"datum":461.3,"type":"quantitative","axis":null},"y":{"datum":95,"type":"quantitative","axis":null},"text":{"value":"460.2"}}},
{"data":{"values":[{}]},"mark":{"type":"text","align":"center","baseline":"middle","fontSize":20,"color":"#222"},"encoding":{"x":{"datum":457.99,"type":"quantitative","axis":null},"y":{"datum":119,"type":"quantitative","axis":null},"text":{"value":"459.2"}}},
{"data":{"values":[{}]},"mark":{"type":"text","align":"center","baseline":"middle","fontSize":20,"fontWeight":"bold","color":"#1c1caa"},"encoding":{"x":{"datum":456.53,"type":"quantitative","axis":null},"y":{"datum":146,"type":"quantitative","axis":null},"text":{"value":"I"}}},
{"data":{"values":[{}]},"mark":{"type":"text","align":"center","baseline":"middle","fontSize":20,"fontWeight":"bold","color":"#1c1caa"},"encoding":{"x":{"datum":456.44,"type":"quantitative","axis":null},"y":{"datum":120,"type":"quantitative","axis":null},"text":{"value":"2.66"}}}
]},
{"width":705,"height":167,"data":{"name":"p2"},"layer":[
{"transform":[{"filter":"datum.k==='r'"}],"mark":{"type":"line","color":"#4a4a4a","strokeWidth":1.8,"clip":true},"encoding":{"x":{"field":"x","type":"quantitative","scale":{"domain":[455.5,469],"reverse":true,"nice":false,"zero":false},"axis":null},"y":{"field":"y","type":"quantitative","scale":{"domain":[0,167],"nice":false,"zero":false},"axis":null}}},
{"transform":[{"filter":"datum.k!=='r'"}],"mark":{"type":"line","color":"#4a4a4a","strokeWidth":2,"interpolate":"monotone","clip":true},"encoding":{"x":{"field":"x","type":"quantitative","axis":null},"y":{"field":"y","type":"quantitative","axis":null},"detail":{"field":"k"}}},
{"data":{"values":[{}]},"mark":{"type":"text","align":"left","baseline":"middle","fontSize":21,"color":"#222"},"encoding":{"x":{"datum":468.9,"type":"quantitative","axis":null},"y":{"datum":145,"type":"quantitative","axis":null},"text":{"value":"RS-140-AT"}}},
{"data":{"values":[{}]},"mark":{"type":"text","align":"center","baseline":"middle","fontSize":20,"fontWeight":"bold","color":"#1c1caa"},"encoding":{"x":{"datum":456.44,"type":"quantitative","axis":null},"y":{"datum":103.6,"type":"quantitative","axis":null},"text":{"value":"2.40"}}}
]},
{"width":705,"height":167,"data":{"name":"p3"},"layer":[
{"transform":[{"filter":"datum.k==='r'"}],"mark":{"type":"line","color":"#4a4a4a","strokeWidth":1.8,"clip":true},"encoding":{"x":{"field":"x","type":"quantitative","scale":{"domain":[455.5,469],"reverse":true,"nice":false,"zero":false},"axis":null},"y":{"field":"y","type":"quantitative","scale":{"domain":[0,167],"nice":false,"zero":false},"axis":null}}},
{"transform":[{"filter":"datum.k!=='r'"}],"mark":{"type":"line","color":"#4a4a4a","strokeWidth":2,"interpolate":"monotone","clip":true},"encoding":{"x":{"field":"x","type":"quantitative","axis":null},"y":{"field":"y","type":"quantitative","axis":null},"detail":{"field":"k"}}},
{"data":{"values":[{}]},"mark":{"type":"text","align":"left","baseline":"middle","fontSize":21,"color":"#222"},"encoding":{"x":{"datum":468.9,"type":"quantitative","axis":null},"y":{"datum":145,"type":"quantitative","axis":null},"text":{"value":"RS-112-AT"}}},
{"data":{"values":[{}]},"mark":{"type":"text","align":"center","baseline":"middle","fontSize":20,"fontWeight":"bold","color":"#1c1caa"},"encoding":{"x":{"datum":456.44,"type":"quantitative","axis":null},"y":{"datum":108.2,"type":"quantitative","axis":null},"text":{"value":"2.33"}}}
]},
{"width":705,"height":167,"data":{"name":"p4"},"layer":[
{"transform":[{"filter":"datum.k==='r'"}],"mark":{"type":"line","color":"#4a4a4a","strokeWidth":1.8,"clip":true},"encoding":{"x":{"field":"x","type":"quantitative","scale":{"domain":[455.5,469],"reverse":true,"nice":false,"zero":false},"axis":null},"y":{"field":"y","type":"quantitative","scale":{"domain":[0,167],"nice":false,"zero":false},"axis":null}}},
{"transform":[{"filter":"datum.k!=='r'"}],"mark":{"type":"line","color":"#4a4a4a","strokeWidth":2,"interpolate":"monotone","clip":true},"encoding":{"x":{"field":"x","type":"quantitative","axis":null},"y":{"field":"y","type":"quantitative","axis":null},"detail":{"field":"k"}}},
{"data":{"values":[{}]},"mark":{"type":"text","align":"left","baseline":"middle","fontSize":21,"color":"#222"},"encoding":{"x":{"datum":468.9,"type":"quantitative","axis":null},"y":{"datum":145,"type":"quantitative","axis":null},"text":{"value":"RS-56-AT"}}},
{"data":{"values":[{}]},"mark":{"type":"text","align":"center","baseline":"middle","fontSize":20,"fontWeight":"bold","color":"#1c1caa"},"encoding":{"x":{"datum":456.44,"type":"quantitative","axis":null},"y":{"datum":99,"type":"quantitative","axis":null},"text":{"value":"2.33"}}}
]},
{"width":705,"height":167,"data":{"name":"p5"},"encoding":{"x":{"field":"x","type":"quantitative","scale":{"domain":[455.5,469],"reverse":true,"nice":false,"zero":false},"axis":{"values":[468,467,466,465,464,463,462,461,460,459,458,457,456],"labelExpr":"datum.value % 2 === 0 ? datum.label : ''","tickSize":{"condition":{"test":"datum.value % 2 === 0","value":8},"value":5},"tickColor":"#000","tickWidth":2,"domain":false,"grid":false,"labelFont":"Liberation Sans","labelFontSize":18,"labelColor":"#222","labelPadding":5,"labelFlush":false,"title":"Banding energy (eV)","titleFont":"Liberation Sans","titleFontSize":23,"titleFontWeight":"bold","titleColor":"#000","titlePadding":18,"titleX":335,"titleAlign":"center"}},"y":{"field":"y","type":"quantitative","scale":{"domain":[0,167],"nice":false,"zero":false},"axis":null}},"layer":[
{"transform":[{"filter":"datum.k==='r'"}],"mark":{"type":"line","color":"#4a4a4a","strokeWidth":1.8,"clip":true}},
{"transform":[{"filter":"datum.k!=='r'"}],"mark":{"type":"line","color":"#4a4a4a","strokeWidth":2,"interpolate":"monotone","clip":true},"encoding":{"detail":{"field":"k"}}},
{"transform":[{"filter":"datum.k==='B' && datum.x===469"}],"mark":{"type":"text","align":"left","baseline":"middle","fontSize":21,"color":"#222"},"encoding":{"x":{"datum":468.9,"type":"quantitative"},"y":{"datum":145,"type":"quantitative"},"text":{"value":"RS-28-AT"}}},
{"transform":[{"filter":"datum.k==='B' && datum.x===469"}],"mark":{"type":"text","align":"center","baseline":"middle","fontSize":20,"fontWeight":"bold","color":"#1c1caa"},"encoding":{"x":{"datum":456.44,"type":"quantitative"},"y":{"datum":98.4,"type":"quantitative"},"text":{"value":"2.30"}}}
]}
]
}
